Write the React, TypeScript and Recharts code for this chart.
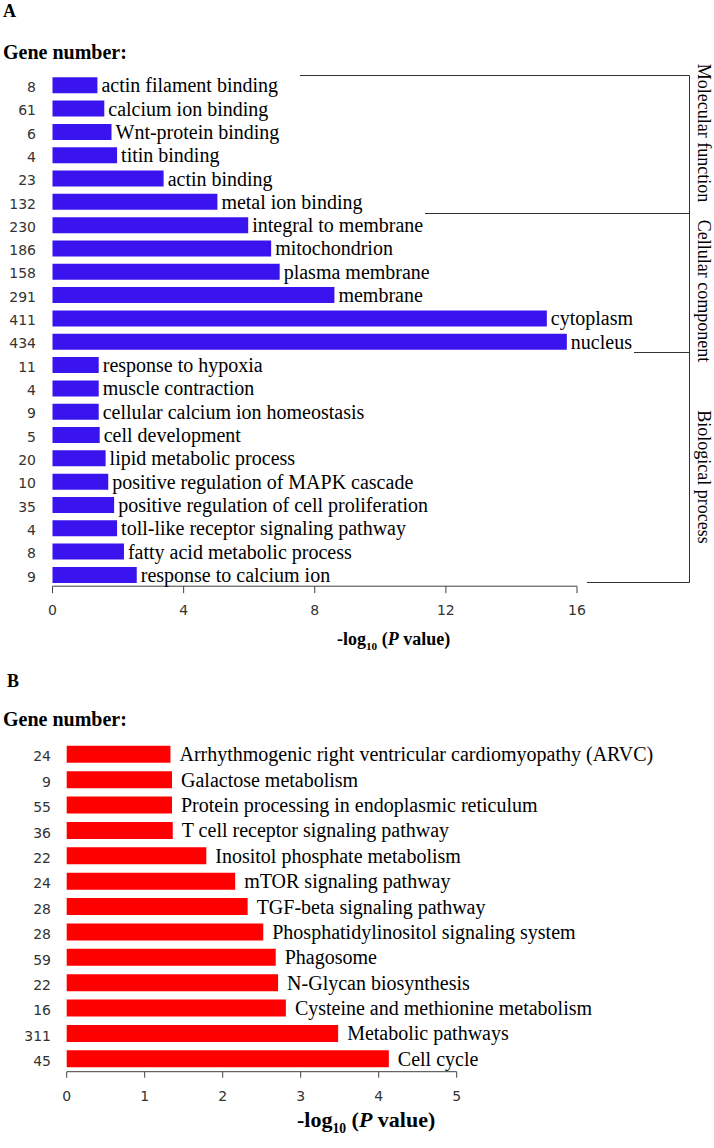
import React from "react";
import { BarChart, Bar, XAxis, YAxis, LabelList } from "recharts";

// panel A: GO terms
const termsA = [
  "actin filament binding",
  "calcium ion binding",
  "Wnt-protein binding",
  "titin binding",
  "actin binding",
  "metal ion binding",
  "integral to membrane",
  "mitochondrion",
  "plasma membrane",
  "membrane",
  "cytoplasm",
  "nucleus",
  "response to hypoxia",
  "muscle contraction",
  "cellular calcium ion homeostasis",
  "cell development",
  "lipid metabolic process",
  "positive regulation of MAPK cascade",
  "positive regulation of cell proliferation",
  "toll-like receptor signaling pathway",
  "fatty acid metabolic process",
  "response to calcium ion",
];
const genesA = [8, 61, 6, 4, 23, 132, 230, 186, 158, 291, 411, 434, 11, 4, 9, 5, 20, 10, 35, 4, 8, 9];
const pA = [1.37, 1.58, 1.8, 1.97, 3.39, 5.03, 5.97, 6.67, 6.93, 8.6, 15.08, 15.69, 1.41, 1.41, 1.41, 1.44, 1.62, 1.7, 1.88, 1.97, 2.18, 2.57];
const ticksA = [0, 4, 8, 12, 16];

// panel B: KEGG pathways
const termsB = [
  "Arrhythmogenic right ventricular cardiomyopathy (ARVC)",
  "Galactose metabolism",
  "Protein processing in endoplasmic reticulum",
  "T cell receptor signaling pathway",
  "Inositol phosphate metabolism",
  "mTOR signaling pathway",
  "TGF-beta signaling pathway",
  "Phosphatidylinositol signaling system",
  "Phagosome",
  "N-Glycan biosynthesis",
  "Cysteine and methionine metabolism",
  "Metabolic pathways",
  "Cell cycle",
];
const genesB = [24, 9, 55, 36, 22, 24, 28, 28, 59, 22, 16, 311, 45];
const pB = [1.33, 1.35, 1.35, 1.36, 1.79, 2.16, 2.32, 2.52, 2.68, 2.71, 2.81, 3.48, 4.13];
const ticksB = [0, 1, 2, 3, 4, 5];

const SERIF = '"Liberation Serif", "Times New Roman", serif';
const SANS = '"DejaVu Sans", Verdana, sans-serif';

const dataA = termsA.map((name, i) => ({ name, p: pA[i] }));
const dataB = termsB.map((name, i) => ({ name, p: pB[i] }));

const geneTick = (terms: string[], genes: number[], right: number) => (p: any) => {
  const i = terms.indexOf(p.payload?.value);
  return (
    <text x={right} y={p.y + 7} textAnchor="end" fontSize={14} fontFamily={SANS} fill="#333">
      {i >= 0 ? genes[i] : ""}
    </text>
  );
};

const termLabel = (gap: number) => (p: any) => {
  const { x = 0, y = 0, width = 0, height = 0, value } = p;
  return (
    <text x={x + width + gap} y={y + height / 2 + 7} fontSize={20} fontFamily={SERIF} fill="#000">
      {value}
    </text>
  );
};

const AxisTitle = ({ x, y, size }: { x: number; y: number; size: number }) => (
  <text x={x} y={y} fontFamily={SERIF} fontWeight="bold" fontSize={size} fill="#000">
    -log
    <tspan fontSize={size * 0.62} dy={size * 0.25}>10</tspan>
    <tspan dy={-size * 0.25}> (</tspan>
    <tspan fontStyle="italic">P</tspan>
    <tspan> value)</tspan>
  </text>
);

export default function App() {
  return (
    <div style={{ position: "absolute", left: 0, top: 0, width: 714, height: 1148, background: "#fff" }}>
      <div style={{ position: "absolute", left: 0, top: 0 }}>
        <BarChart
          width={714}
          height={620}
          layout="vertical"
          data={dataA}
          margin={{ top: 73.3, right: 137, left: 0, bottom: 3.8 }}
        >
          <XAxis
            type="number"
            domain={[0, 16]}
            ticks={ticksA}
            height={30}
            tickSize={7}
            tickMargin={12}
            axisLine={{ stroke: "#404040" }}
            tickLine={{ stroke: "#404040" }}
            tick={{ fontSize: 14, fontFamily: SANS, fill: "#333" }}
          />
          <YAxis
            type="category"
            dataKey="name"
            width={52.5}
            axisLine={false}
            tickLine={false}
            interval={0}
            tick={geneTick(termsA, genesA, 36)}
          />
          <Bar dataKey="p" fill="#3a14ee" barSize={16} isAnimationActive={false}>
            <LabelList dataKey="name" content={termLabel(4)} />
          </Bar>
        </BarChart>
      </div>

      <div style={{ position: "absolute", left: 0, top: 640 }}>
        <BarChart
          width={714}
          height={470}
          layout="vertical"
          data={dataB}
          margin={{ top: 101.8, right: 257.3, left: 0, bottom: 8.3 }}
        >
          <XAxis
            type="number"
            domain={[0, 5]}
            ticks={ticksB}
            height={30}
            tickSize={6}
            tickMargin={13}
            axisLine={{ stroke: "#404040" }}
            tickLine={{ stroke: "#404040" }}
            tick={{ fontSize: 14, fontFamily: SANS, fill: "#333" }}
          />
          <YAxis
            type="category"
            dataKey="name"
            width={66.7}
            axisLine={false}
            tickLine={false}
            interval={0}
            tick={geneTick(termsB, genesB, 51)}
          />
          <Bar dataKey="p" fill="#ff0000" barSize={17} isAnimationActive={false}>
            <LabelList dataKey="name" content={termLabel(9)} />
          </Bar>
        </BarChart>
      </div>

      <svg
        width={714}
        height={1148}
        style={{ position: "absolute", left: 0, top: 0, pointerEvents: "none" }}
      >
        <text x={3} y={17} fontFamily={SERIF} fontWeight="bold" fontSize={18}>A</text>
        <text x={3} y={59} fontFamily={SERIF} fontWeight="bold" fontSize={20}>Gene number:</text>
        <AxisTitle x={337} y={645} size={18} />

        <g stroke="#333" strokeWidth={1} fill="none">
          <line x1={300} y1={75.5} x2={689.5} y2={75.5} />
          <line x1={425} y1={213.5} x2={689.5} y2={213.5} />
          <line x1={634} y1={352.5} x2={689.5} y2={352.5} />
          <line x1={587} y1={582.5} x2={689.5} y2={582.5} />
          <line x1={689.5} y1={75.5} x2={689.5} y2={582.5} />
        </g>
        <text transform="translate(698,133) rotate(90)" textAnchor="middle" fontFamily={SERIF} fontSize={18}>
          Molecular function
        </text>
        <text transform="translate(698,291) rotate(90)" textAnchor="middle" fontFamily={SERIF} fontSize={18}>
          Cellular component
        </text>
        <text transform="translate(698,477) rotate(90)" textAnchor="middle" fontFamily={SERIF} fontSize={18}>
          Biological process
        </text>

        <text x={7} y={687} fontFamily={SERIF} fontWeight="bold" fontSize={18}>B</text>
        <text x={3} y={726} fontFamily={SERIF} fontWeight="bold" fontSize={20}>Gene number:</text>
        <AxisTitle x={297} y={1127} size={22} />
      </svg>
    </div>
  );
}
